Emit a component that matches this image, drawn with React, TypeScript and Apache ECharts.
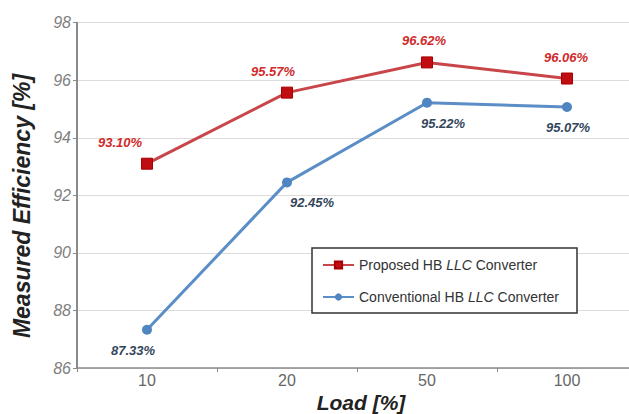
import React, { useEffect, useRef } from "react";
import * as echarts from "echarts";

const categories = ["10", "20", "50", "100"];
const proposed = [93.1, 95.57, 96.62, 96.06];
const conventional = [87.33, 92.45, 95.22, 95.07];
const proposedLabelOffsets = [[-27, 0], [-14, 0], [-3, 0], [-1, 0]];
const conventionalLabelOffsets = [[-14, 0], [25, 0], [16, 0], [1, 0]];
const yTicks = { min: 86, max: 98, interval: 2 };

export default function App() {
  const ref = useRef<HTMLDivElement>(null);
  useEffect(() => {
    if (!ref.current) return;
    const chart = echarts.init(ref.current, null, { renderer: "svg" });
    const font = "Liberation Sans, Arial, sans-serif";
    const labelBase = {
      show: true,
      fontSize: 13,
      fontWeight: "bold" as const,
      fontStyle: "italic" as const,
      fontFamily: font,
      distance: 9,
      formatter: (p: any) => p.value.toFixed(2) + "%",
    };
    chart.setOption({
      animation: false,
      backgroundColor: "#ffffff",
      grid: { left: 77, top: 22.7, bottom: 46, width: 560, outerBoundsMode: "none", containLabel: false },
      legend: {
        orient: "vertical",
        left: 312,
        top: 248,
        backgroundColor: "#ffffff",
        borderColor: "#333333",
        borderWidth: 1.5,
        borderRadius: 0,
        padding: [10, 18, 9, 10],
        itemGap: 18,
        itemWidth: 31,
        itemHeight: 9,
        formatter: (name: string) => name.replace("LLC", "{i|LLC}"),
        textStyle: {
          fontSize: 14,
          color: "#333",
          fontFamily: font,
          rich: { i: { fontStyle: "italic", fontSize: 14, color: "#333", fontFamily: font } },
        },
        data: ["Proposed HB LLC Converter", "Conventional HB LLC Converter"],
      },
      xAxis: {
        type: "category",
        data: categories,
        boundaryGap: true,
        axisLine: { lineStyle: { color: "#8a8a8a", width: 1.5 } },
        axisTick: { show: true, length: 4, lineStyle: { color: "#8a8a8a" } },
        axisLabel: {
          color: "#666",
          fontSize: 16,
          margin: 4,
          fontFamily: font,
        },
      },
      yAxis: {
        type: "value",
        min: yTicks.min,
        max: yTicks.max,
        interval: yTicks.interval,
        axisLine: { show: true, lineStyle: { color: "#8a8a8a", width: 2 } },
        axisTick: { show: true, length: 4, lineStyle: { color: "#8a8a8a" } },
        axisLabel: {
          color: "#808080",
          fontSize: 16,
          fontStyle: "italic",
          margin: 6,
          fontFamily: font,
        },
        splitLine: { show: true, lineStyle: { color: "#dcdcdc", width: 1 } },
      },
      graphic: [
        {
          type: "text",
          x: 361,
          y: 402,
          style: {
            text: "Load [%]",
            fontSize: 21,
            fontWeight: "bold",
            fontStyle: "italic",
            fill: "#222",
            fontFamily: font,
            textAlign: "center",
            textVerticalAlign: "middle",
          },
        },
        {
          type: "text",
          x: 22,
          y: 206,
          rotation: Math.PI / 2,
          style: {
            text: "Measured Efficiency [%]",
            fontSize: 23,
            fontWeight: "bold",
            fontStyle: "italic",
            fill: "#222",
            fontFamily: font,
            textAlign: "center",
            textVerticalAlign: "middle",
          },
        },
      ],
      series: [
        {
          name: "Proposed HB LLC Converter",
          type: "line",
          data: proposed.map((v, i) => ({
            value: v,
            label: { offset: proposedLabelOffsets[i] },
          })),
          symbol: "rect",
          symbolSize: 11,
          lineStyle: { color: "#c8464a", width: 3 },
          itemStyle: { color: "#c00d12", borderColor: "#a80000", borderWidth: 1 },
          label: { ...labelBase, position: "top", color: "#d02a2a" },
          z: 3,
        },
        {
          name: "Conventional HB LLC Converter",
          type: "line",
          data: conventional.map((v, i) => ({
            value: v,
            label: { offset: conventionalLabelOffsets[i] },
          })),
          symbol: "circle",
          symbolSize: 10,
          lineStyle: { color: "#5b8ec6", width: 3 },
          itemStyle: { color: "#4f86c2" },
          label: { ...labelBase, position: "bottom", color: "#34465a" },
          z: 2,
        },
      ],
    });
    return () => chart.dispose();
  }, []);
  return (
    <div
      ref={ref}
      style={{ position: "fixed", left: 0, top: 0, width: 629, height: 414 }}
    />
  );
}
